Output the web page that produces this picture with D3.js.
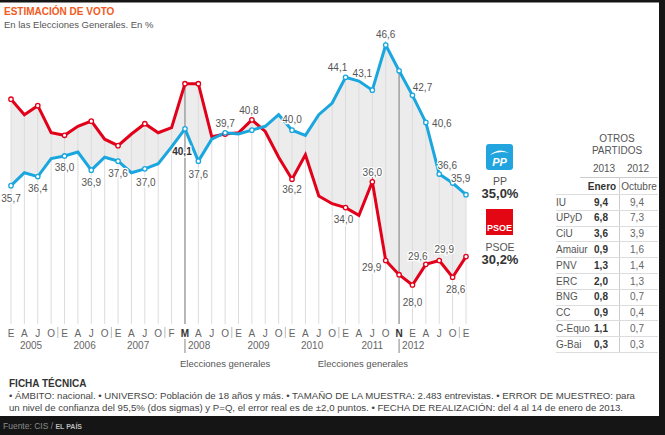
<!DOCTYPE html>
<html><head><meta charset="utf-8">
<script src="https://cdn.jsdelivr.net/npm/d3@7"></script>
<style>
html,body{margin:0;padding:0;background:#fff;}
svg{display:block;font-family:"Liberation Sans",Arial,Helvetica,sans-serif;}
</style></head><body>
<svg id="c" width="665" height="435"></svg>
<script>
// ---------- DATA ----------
const months = ["E","A","J","O","E","A","J","O","E","A","J","O","F","M","A","J","O","E","A","J","O","E","A","J","O","E","A","J","O","N","E","A","J","O","E"];
const years = ["2005","2006","2007","2008","2009","2010","2011","2012"];
const yearStart = [0,4,8,13,17,21,25,29];
const yearEnd   = [3,7,11,16,20,24,29,33];
const pp   = [35.7,36.7,36.4,37.8,38.0,38.3,36.9,37.9,37.6,36.7,37.0,37.4,38.7,40.1,37.6,39.3,39.8,39.7,40.0,40.3,41.2,40.0,39.6,41.2,42.1,44.1,43.8,43.1,46.6,44.6,42.7,40.6,36.6,35.9,35.0];
const psoe = [42.4,41.2,41.9,39.8,39.6,40.3,40.7,39.3,38.8,39.7,40.5,39.8,40.2,43.6,43.6,39.5,39.7,39.8,40.8,39.9,37.9,36.2,38.1,34.9,34.3,34.0,33.4,36.0,29.9,28.8,28.0,29.6,29.9,28.6,30.2];
const elections = [13, 29];
const markerIdx = [0,2,4,6,8,10,13,14,16,18,21,25,27,28,29,30,31,32,33,34];
const ppLabeled = [0,2,4,6,8,10,13,14,21,25,27,28,30,31,32,33];
const psoeLabeled = [16,18,21,25,27,28,30,31,32,33];
const legendNames = ["PP","PSOE"];
const legendValues = [35.0, 30.2];
const otros = ["IU","UPyD","CiU","Amaiur","PNV","ERC","BNG","CC","C-Equo","G-Bai"];
const enero2013 = [9.4,6.8,3.6,0.9,1.3,2.0,0.8,0.9,1.1,0.3];
const octubre2012 = [9.4,7.3,3.9,1.6,1.4,1.3,0.7,0.4,0.7,0.3];
const fichaLines = [
 "• ÁMBITO: nacional. • UNIVERSO: Población de 18 años y más.  • TAMAÑO DE LA MUESTRA: 2.483 entrevistas. • ERROR DE MUESTREO: para",
 "un nivel de confianza del 95,5% (dos sigmas) y P=Q, el error real es de ±2,0 puntos. • FECHA DE REALIZACIÓN: del 4 al 14 de enero de 2013."
];

// ---------- STYLE / PLACEMENT ----------
const RED = "#e2001a", BLUE = "#1aa6de";
const ppPlace = {0:[0,16],2:[0,15],4:[0,15],6:[0,16],8:[0,16],10:[1,17],13:[-3,26],14:[0,17],21:[0,-7],25:[-8,-6],27:[-10,-13],28:[0,-7],30:[10,-4],31:[16,5],32:[8,-5],33:[8,-1]};
const psoePlace = {16:[0,-7],18:[-3,-6],21:[0,14],25:[-2,15],27:[0,-6],28:[-14,11],30:[0,21],31:[-8,-4],32:[5,-7],33:[3,16]};
const fmt = v => d3.format(".1f")(v).replace(".", ",");

const svg = d3.select("#c");
const x = d3.scalePoint().domain(d3.range(months.length)).range([11, 466]);
const y = d3.scaleLinear().domain([28, 46.6]).range([285, 45]);
const gridBottom = 324;

// title
svg.append("text").attr("x",4).attr("y",15).attr("font-size",10).attr("font-weight","bold").attr("fill","#f15a22").text("ESTIMACIÓN DE VOTO");
svg.append("text").attr("x",4).attr("y",28).attr("font-size",9.5).attr("fill","#555").text("En las Elecciones Generales. En %");

// shaded area between lines
const area = d3.area().x((d,i)=>x(i)).y0((d,i)=>y(psoe[i])).y1((d,i)=>y(pp[i]));
svg.append("path").datum(pp).attr("d",area).attr("fill","#ececec");

// gridlines
svg.append("g").selectAll("line").data(d3.range(months.length).filter(i=>!elections.includes(i))).join("line")
  .attr("x1",i=>x(i)).attr("x2",i=>x(i))
  .attr("y1",i=>Math.min(y(pp[i]),y(psoe[i]))).attr("y2",gridBottom)
  .attr("stroke","#dcdcdc").attr("stroke-width",1);
// election lines
const eg = svg.append("g");
eg.selectAll("line.a").data(elections).join("line")
  .attr("x1",i=>x(i)).attr("x2",i=>x(i))
  .attr("y1",i=>Math.min(y(pp[i]),y(psoe[i]))).attr("y2",gridBottom)
  .attr("stroke","#9a9a9a").attr("stroke-width",1.4);
eg.selectAll("line.b").data(elections).join("line")
  .attr("x1",i=>x(i)).attr("x2",i=>x(i))
  .attr("y1",339).attr("y2",353)
  .attr("stroke","#9a9a9a").attr("stroke-width",1.2);

// lines
const line = s => d3.line().x((d,i)=>x(i)).y(d=>y(d))(s);
svg.append("path").attr("d",line(psoe)).attr("fill","none").attr("stroke",RED).attr("stroke-width",3);
svg.append("path").attr("d",line(pp)).attr("fill","none").attr("stroke",BLUE).attr("stroke-width",3);

// markers
[[psoe,RED],[pp,BLUE]].forEach(([s,c])=>{
  svg.append("g").selectAll("circle").data(markerIdx).join("circle")
    .attr("cx",i=>x(i)).attr("cy",i=>y(s[i])).attr("r",2.2)
    .attr("fill","#fff").attr("stroke",c).attr("stroke-width",1.3);
});

// labels
function labels(series, idx, place){
  svg.append("g").selectAll("text").data(idx).join("text")
    .attr("x",i=>x(i)+place[i][0]).attr("y",i=>y(series[i])+place[i][1])
    .attr("text-anchor","middle").attr("font-size",10)
    .attr("font-weight",i=>elections.includes(i)?"bold":"normal")
    .attr("fill",i=>elections.includes(i)?"#333":"#555")
    .attr("stroke","#fff").attr("stroke-width",2.5).attr("paint-order","stroke")
    .text(i=>fmt(series[i]));
}
labels(pp, ppLabeled, ppPlace);
labels(psoe, psoeLabeled, psoePlace);

// x axis letters
svg.append("g").selectAll("text").data(months).join("text")
  .attr("x",(d,i)=>x(i)).attr("y",337).attr("text-anchor","middle").attr("font-size",10)
  .attr("font-weight",(d,i)=>elections.includes(i)?"bold":"normal")
  .attr("fill",(d,i)=>elections.includes(i)?"#333":"#666").text(d=>d);
// year separators
const seps = yearEnd.filter(e=>!elections.includes(e) && !elections.includes(e+1) && e+1<months.length);
svg.append("g").selectAll("line").data(seps).join("line")
  .attr("x1",e=>(x(e)+x(e+1))/2).attr("x2",e=>(x(e)+x(e+1))/2)
  .attr("y1",327).attr("y2",338).attr("stroke","#bbb").attr("stroke-width",1);
// years
svg.append("g").selectAll("text").data(years).join("text")
  .attr("x",(d,k)=>elections.includes(yearStart[k]) ? x(yearStart[k])+3 : (x(yearStart[k])+x(yearEnd[k]))/2)
  .attr("text-anchor",(d,k)=>elections.includes(yearStart[k])?"start":"middle")
  .attr("y",349).attr("font-size",10).attr("fill","#666").text(d=>d);
// election captions
svg.append("text").attr("x",x(elections[0])-5).attr("y",367).attr("font-size",9.5).attr("fill","#555").text("Elecciones generales");
svg.append("text").attr("x",x(elections[1])+9).attr("y",367).attr("text-anchor","end").attr("font-size",9.5).attr("fill","#555").text("Elecciones generales");

// legend logos
const lg = svg.append("g");
lg.append("rect").attr("x",486).attr("y",144).attr("width",27).attr("height",26).attr("rx",3).attr("fill","#22a5df");
lg.append("path").attr("d","M490,155 Q499,147 509,153 Q499,150.5 490,155 Z").attr("fill","#fff");
lg.append("text").attr("x",499.5).attr("y",166).attr("text-anchor","middle").attr("font-size",11).attr("font-weight","bold").attr("font-style","italic").attr("fill","#fff").text("PP");
lg.append("rect").attr("x",486).attr("y",209).attr("width",27).attr("height",26).attr("fill","#e30613");
lg.append("text").attr("x",499.5).attr("y",231).attr("text-anchor","middle").attr("font-size",9).attr("font-weight","bold").attr("fill","#fff")
  .attr("font-family","'Liberation Sans Narrow','Arial Narrow','Liberation Sans',sans-serif").text("PSOE");
const legY = [185, 251];
legendNames.forEach((n,k)=>{
  lg.append("text").attr("x",500).attr("y",legY[k]).attr("text-anchor","middle").attr("font-size",10.5).attr("fill","#555").text(n);
  lg.append("text").attr("x",500).attr("y",legY[k]+13).attr("text-anchor","middle").attr("font-size",13).attr("font-weight","bold").attr("fill","#333").text(fmt(legendValues[k])+"%");
});

// table
const tg = svg.append("g").attr("font-size",10);
tg.append("text").attr("x",617).attr("y",142).attr("text-anchor","middle").attr("fill","#555").text("OTROS");
tg.append("text").attr("x",617).attr("y",154).attr("text-anchor","middle").attr("fill","#555").text("PARTIDOS");
tg.append("text").attr("x",604).attr("y",172).attr("text-anchor","middle").attr("fill","#555").text("2013");
tg.append("text").attr("x",638).attr("y",172).attr("text-anchor","middle").attr("fill","#555").text("2012");
tg.append("line").attr("x1",580).attr("x2",658).attr("y1",177.5).attr("y2",177.5).attr("stroke","#ccc");
tg.append("text").attr("x",602).attr("y",190).attr("text-anchor","middle").attr("font-weight","bold").attr("fill","#333").text("Enero");
tg.append("text").attr("x",639).attr("y",190).attr("text-anchor","middle").attr("fill","#555").text("Octubre");
const rowTop = 194, rowH = 15.8;
tg.append("line").attr("x1",619.5).attr("x2",619.5).attr("y1",177.5).attr("y2",rowTop+rowH*otros.length).attr("stroke","#ccc");
tg.selectAll("line.r").data(d3.range(otros.length+1)).join("line")
  .attr("x1",556).attr("x2",658).attr("y1",k=>Math.round(rowTop+k*rowH)+0.5).attr("y2",k=>Math.round(rowTop+k*rowH)+0.5).attr("stroke","#ddd");
tg.selectAll("text.n").data(otros).join("text").attr("x",556).attr("y",(d,k)=>rowTop+k*rowH+11.5).attr("fill","#555").text(d=>d);
tg.selectAll("text.a").data(enero2013).join("text").attr("x",601).attr("y",(d,k)=>rowTop+k*rowH+11.5).attr("text-anchor","middle").attr("font-weight","bold").attr("fill","#333").text(d=>fmt(d));
tg.selectAll("text.b").data(octubre2012).join("text").attr("x",637).attr("y",(d,k)=>rowTop+k*rowH+11.5).attr("text-anchor","middle").attr("fill","#666").text(d=>fmt(d));

// ficha técnica
svg.append("text").attr("x",9).attr("y",387).attr("font-size",10).attr("font-weight","bold").attr("fill","#333").text("FICHA TÉCNICA");
fichaLines.forEach((t,k)=>svg.append("text").attr("x",9).attr("y",399+k*12).attr("font-size",9.65).attr("fill","#444").text(t));

// frame: top bar, right strip, footer
svg.append("rect").attr("x",0).attr("y",0).attr("width",665).attr("height",2.5).attr("fill","#151515");
svg.append("rect").attr("x",659).attr("y",0).attr("width",6).attr("height",435).attr("fill","#151515");
svg.append("rect").attr("x",0).attr("y",416).attr("width",665).attr("height",19).attr("fill","#151515");
const ft = svg.append("text").attr("x",3).attr("y",429).attr("font-size",8.5).attr("fill","#8a8a8a");
ft.append("tspan").text("Fuente: CIS / ");
ft.append("tspan").attr("font-size",7).attr("font-weight","bold").attr("fill","#bbb").text("EL PAÍS");
</script></body></html>
